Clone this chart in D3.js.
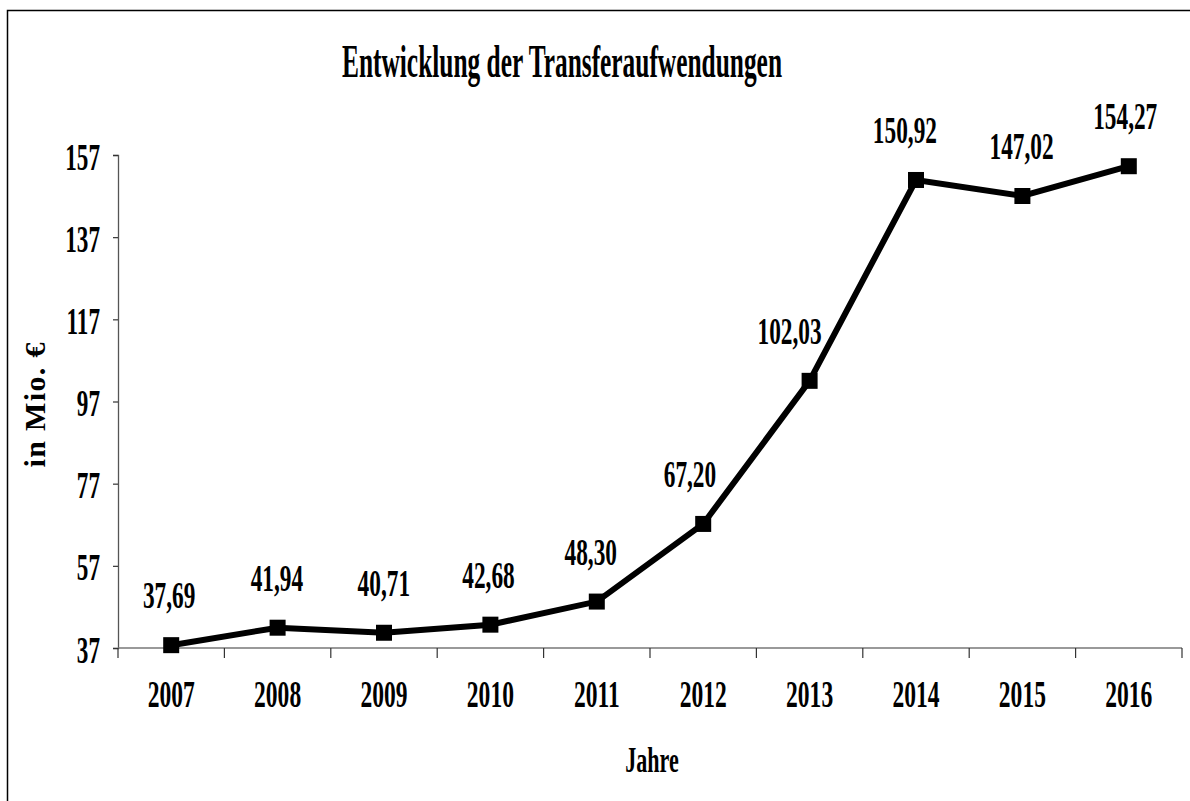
<!DOCTYPE html>
<html>
<head>
<meta charset="utf-8">
<script src="https://cdn.jsdelivr.net/npm/d3@7"></script>
<style>
  html, body { margin: 0; padding: 0; background: #fff; }
  text { font-family: "Liberation Serif", "Times New Roman", serif; font-weight: bold; fill: #000; }
</style>
</head>
<body>
<svg width="1190" height="801"></svg>
<script>
// chart data
var years = ["2007", "2008", "2009", "2010", "2011", "2012", "2013", "2014", "2015", "2016"];
var values = [37.69, 41.94, 40.71, 42.68, 48.30, 67.20, 102.03, 150.92, 147.02, 154.27];
var yTicks = [37, 57, 77, 97, 117, 137, 157];

var title = "Entwicklung der Transferaufwendungen",
    xTitle = "Jahre",
    yTitle = "in Mio. €";

var svg = d3.select("svg"),
    margin = {top: 155, right: 8, bottom: 153, left: 118},
    width = +svg.attr("width") - margin.left - margin.right,
    height = +svg.attr("height") - margin.top - margin.bottom;

var de = d3.formatLocale({decimal: ",", thousands: ".", grouping: [3], currency: ["", " €"]});
var fmt = de.format(".2f");

// outer frame (runs off the right and bottom edge like the original)
svg.append("rect")
    .attr("x", 7.5).attr("y", 10.5)
    .attr("width", 1200).attr("height", 820)
    .attr("fill", "none")
    .attr("stroke", "#000")
    .attr("stroke-width", 1.5);

var g = svg.append("g").attr("transform", "translate(" + margin.left + "," + margin.top + ")");

var x = d3.scaleBand()
    .domain(years)
    .range([0, width])
    .padding(0);

var y = d3.scaleLinear()
    .domain([37, 157])
    .range([height, 0]);

var cx = (d, i) => x(years[i]) + x.bandwidth() / 2;

// y axis
var yAxis = g.append("g")
    .attr("class", "yaxis")
    .call(d3.axisLeft(y).tickValues(yTicks).tickFormat(d3.format("d")).tickSize(5));

yAxis.select(".domain").attr("stroke", "#555").attr("stroke-width", 1.3);
yAxis.selectAll(".tick line").attr("stroke", "#333").attr("stroke-width", 1.2);
yAxis.selectAll(".tick text")
    .attr("x", null).attr("dy", null)
    .attr("text-anchor", "end")
    .attr("font-size", 38)
    .attr("transform", "translate(-18,14) scale(0.61,1)");

// x axis line
g.append("line")
    .attr("x1", 0).attr("x2", width)
    .attr("y1", height).attr("y2", height)
    .attr("stroke", "#777").attr("stroke-width", 1.5);

// x ticks at band boundaries
var bounds = years.map(d => x(d)).concat([width]);
g.append("g").selectAll("line")
    .data(bounds)
    .join("line")
    .attr("x1", d => d).attr("x2", d => d)
    .attr("y1", height).attr("y2", height + 10)
    .attr("stroke", "#333").attr("stroke-width", 1.2);

// x labels
g.append("g").selectAll("text")
    .data(years)
    .join("text")
    .attr("text-anchor", "middle")
    .attr("font-size", 38)
    .attr("transform", d => "translate(" + (x(d) + x.bandwidth() / 2) + "," + (height + 59) + ") scale(0.62,1)")
    .text(d => d);

// line
var line = d3.line()
    .x(cx)
    .y(d => y(d));

g.append("path")
    .datum(values)
    .attr("fill", "none")
    .attr("stroke", "#000")
    .attr("stroke-width", 6)
    .attr("stroke-linejoin", "miter")
    .attr("d", line);

// markers
g.append("g").selectAll("rect")
    .data(values)
    .join("rect")
    .attr("x", (d, i) => cx(d, i) - 8)
    .attr("y", d => y(d) - 8)
    .attr("width", 16)
    .attr("height", 16)
    .attr("fill", "#000");

// value labels, pushed left where the line climbs steeply so they stay clear of it
function labelShift(i) {
    var rises = [];
    if (i > 0) rises.push(y(values[i - 1]) - y(values[i]));
    if (i < values.length - 1) rises.push(y(values[i]) - y(values[i + 1]));
    var avg = d3.mean(rises);
    return Math.max(-20, Math.min(4, -0.12 * avg));
}

g.append("g").selectAll("text")
    .data(values)
    .join("text")
    .attr("text-anchor", "middle")
    .attr("font-size", 37)
    .attr("transform", (d, i) => "translate(" + (cx(d, i) + labelShift(i)) + "," + (y(d) - 37) + ") scale(0.63,1)")
    .text(d => fmt(d));

// title
svg.append("text")
    .attr("x", 562)
    .attr("y", 77)
    .attr("text-anchor", "middle")
    .attr("font-size", 46)
    .attr("textLength", 440)
    .attr("lengthAdjust", "spacingAndGlyphs")
    .text(title);

// axis titles
svg.append("text")
    .attr("text-anchor", "middle")
    .attr("font-size", 35)
    .attr("transform", "translate(652,772) scale(0.63,1)")
    .text(xTitle);

svg.append("text")
    .attr("text-anchor", "middle")
    .attr("font-size", 30)
    .attr("textLength", 125)
    .attr("lengthAdjust", "spacing")
    .attr("transform", "translate(45,405) rotate(-90)")
    .text(yTitle);
</script>
</body>
</html>
